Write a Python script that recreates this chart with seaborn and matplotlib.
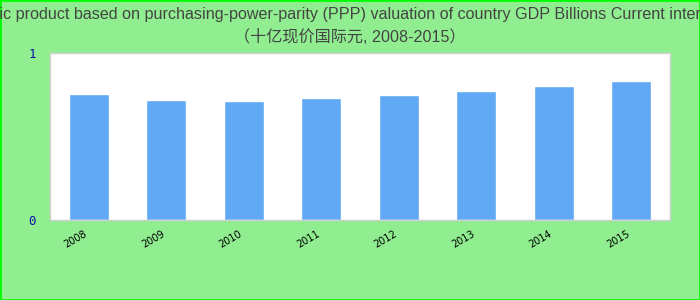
import matplotlib
matplotlib.use("Agg")
import matplotlib.pyplot as plt
import matplotlib.patches as mpatches
import seaborn as sns
import pandas as pd

years = ["2008", "2009", "2010", "2011", "2012", "2013", "2014", "2015"]
values = [0.756, 0.719, 0.713, 0.731, 0.749, 0.772, 0.802, 0.832]
y_ticks = [0, 1]
title_line1 = ("Gross domestic product based on purchasing-power-parity (PPP) valuation "
               "of country GDP Billions Current international dollar")
title_line2 = "（十亿现价国际元, 2008-2015）"

sns.set_theme(style="white")
plt.rcParams["font.family"] = ["Liberation Sans", "Noto Sans CJK SC", "DejaVu Sans"]

df = pd.DataFrame({"year": years, "value": values})

fig = plt.figure(figsize=(7, 3), dpi=100, facecolor="#90EE90")
ax = fig.add_axes([50/700, 80/300, 620/700, 166.7/300])
ax.set_facecolor("white")

sns.barplot(data=df, x="year", y="value", color="#61A8F5", saturation=1,
            width=0.52, ax=ax)

ax.set_ylim(0, 1)
ax.set_xlim(-0.5, len(years) - 0.5)
ax.set_yticks(y_ticks)
ax.set_yticklabels([str(t) for t in y_ticks], color="#1010A0",
                   family="DejaVu Sans Mono", fontsize=9)
ax.tick_params(axis="y", length=0, pad=10)
ax.tick_params(axis="x", length=0, pad=6)
for lab in ax.get_xticklabels():
    lab.set_rotation(30)
    lab.set_ha("right")
    lab.set_fontsize(7)
    lab.set_color("black")
    lab.set_family("DejaVu Sans")
ax.set_xlabel("")
ax.set_ylabel("")
for s in ax.spines.values():
    s.set_visible(True)
    s.set_color("#D0D0D0")
    s.set_linewidth(1)

fig.text(0.5, 1 - 14/300, title_line1, ha="center", va="center",
         fontsize=11.6, color="#444444")
fig.text(0.5, 1 - 37/300, title_line2, ha="center", va="center",
         fontsize=11.6, color="#444444")

fig.patches.append(mpatches.Rectangle((0, 0), 1, 1, transform=fig.transFigure,
                                      fill=False, edgecolor="#00FF00",
                                      linewidth=2, figure=fig))

fig.savefig("out.png", dpi=100, facecolor=fig.get_facecolor())
